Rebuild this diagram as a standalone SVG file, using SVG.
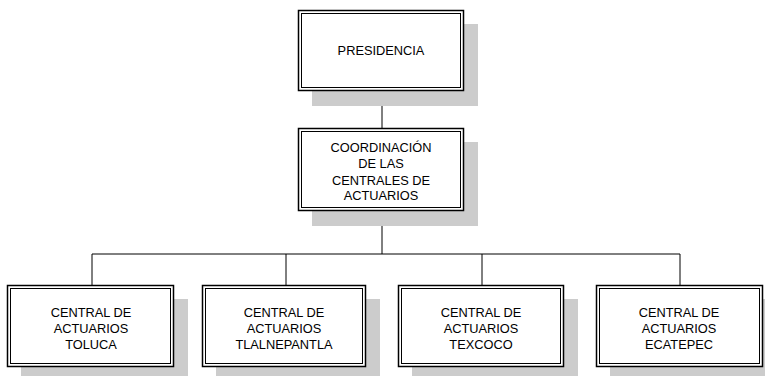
<svg xmlns="http://www.w3.org/2000/svg" width="765" height="376" viewBox="0 0 765 376">
<style>
.sh{fill:#cccccc;stroke:none}
.o{fill:#ffffff;stroke:#000000;stroke-width:1.5}
.i{fill:none;stroke:#000000;stroke-width:1}
.t{font-family:"Liberation Sans",Arial,sans-serif;font-size:12.8px;fill:#000000;text-anchor:middle}
.c{fill:none;stroke:#000000;stroke-width:1}
</style>
<rect width="765" height="376" fill="#ffffff"/>
<g id="connectors">
<line class="c" x1="382" y1="91" x2="382" y2="128"/>
<line class="c" x1="382" y1="211" x2="382" y2="254"/>
<line class="c" x1="92" y1="254" x2="680" y2="254"/>
<line class="c" x1="92" y1="254" x2="92" y2="285"/>
<line class="c" x1="286" y1="254" x2="286" y2="285"/>
<line class="c" x1="482" y1="254" x2="482" y2="285"/>
<line class="c" x1="680" y1="254" x2="680" y2="285"/>
</g>
<g id="presidencia">
<rect class="sh" x="312" y="24" width="166" height="82"/>
<rect class="o" x="298.5" y="10.5" width="165" height="80"/>
<rect class="i" x="301.5" y="13.5" width="159" height="74"/>
<text class="t" x="381" y="55">PRESIDENCIA</text>
</g>
<g id="coordinacion">
<rect class="sh" x="312" y="142" width="166" height="84"/>
<rect class="o" x="298.5" y="128.5" width="165" height="82"/>
<rect class="i" x="301.5" y="131.5" width="159" height="76"/>
<text class="t" x="381" y="152">COORDINACIÓN</text>
<text class="t" x="381" y="168">DE LAS</text>
<text class="t" x="381" y="185">CENTRALES DE</text>
<text class="t" x="381" y="200">ACTUARIOS</text>
</g>
<g id="toluca">
<rect class="sh" x="21" y="299" width="167" height="77"/>
<rect class="o" x="7.5" y="285.5" width="166" height="81"/>
<rect class="i" x="10.5" y="288.5" width="160" height="75"/>
<text class="t" x="91" y="317">CENTRAL DE</text>
<text class="t" x="91" y="333">ACTUARIOS</text>
<text class="t" x="91" y="349">TOLUCA</text>
</g>
<g id="tlalnepantla">
<rect class="sh" x="216" y="299" width="164" height="77"/>
<rect class="o" x="202.5" y="285.5" width="163" height="81"/>
<rect class="i" x="205.5" y="288.5" width="157" height="75"/>
<text class="t" x="284" y="317">CENTRAL DE</text>
<text class="t" x="284" y="333">ACTUARIOS</text>
<text class="t" x="284" y="349">TLALNEPANTLA</text>
</g>
<g id="texcoco">
<rect class="sh" x="412" y="299" width="166" height="77"/>
<rect class="o" x="398.5" y="285.5" width="165" height="81"/>
<rect class="i" x="401.5" y="288.5" width="159" height="75"/>
<text class="t" x="481" y="317">CENTRAL DE</text>
<text class="t" x="481" y="333">ACTUARIOS</text>
<text class="t" x="481" y="349">TEXCOCO</text>
</g>
<g id="ecatepec">
<rect class="sh" x="610" y="299" width="155" height="77"/>
<rect class="o" x="596.5" y="285.5" width="166" height="81"/>
<rect class="i" x="599.5" y="288.5" width="160" height="75"/>
<text class="t" x="679" y="317">CENTRAL DE</text>
<text class="t" x="679" y="333">ACTUARIOS</text>
<text class="t" x="679" y="349">ECATEPEC</text>
</g>
</svg>
